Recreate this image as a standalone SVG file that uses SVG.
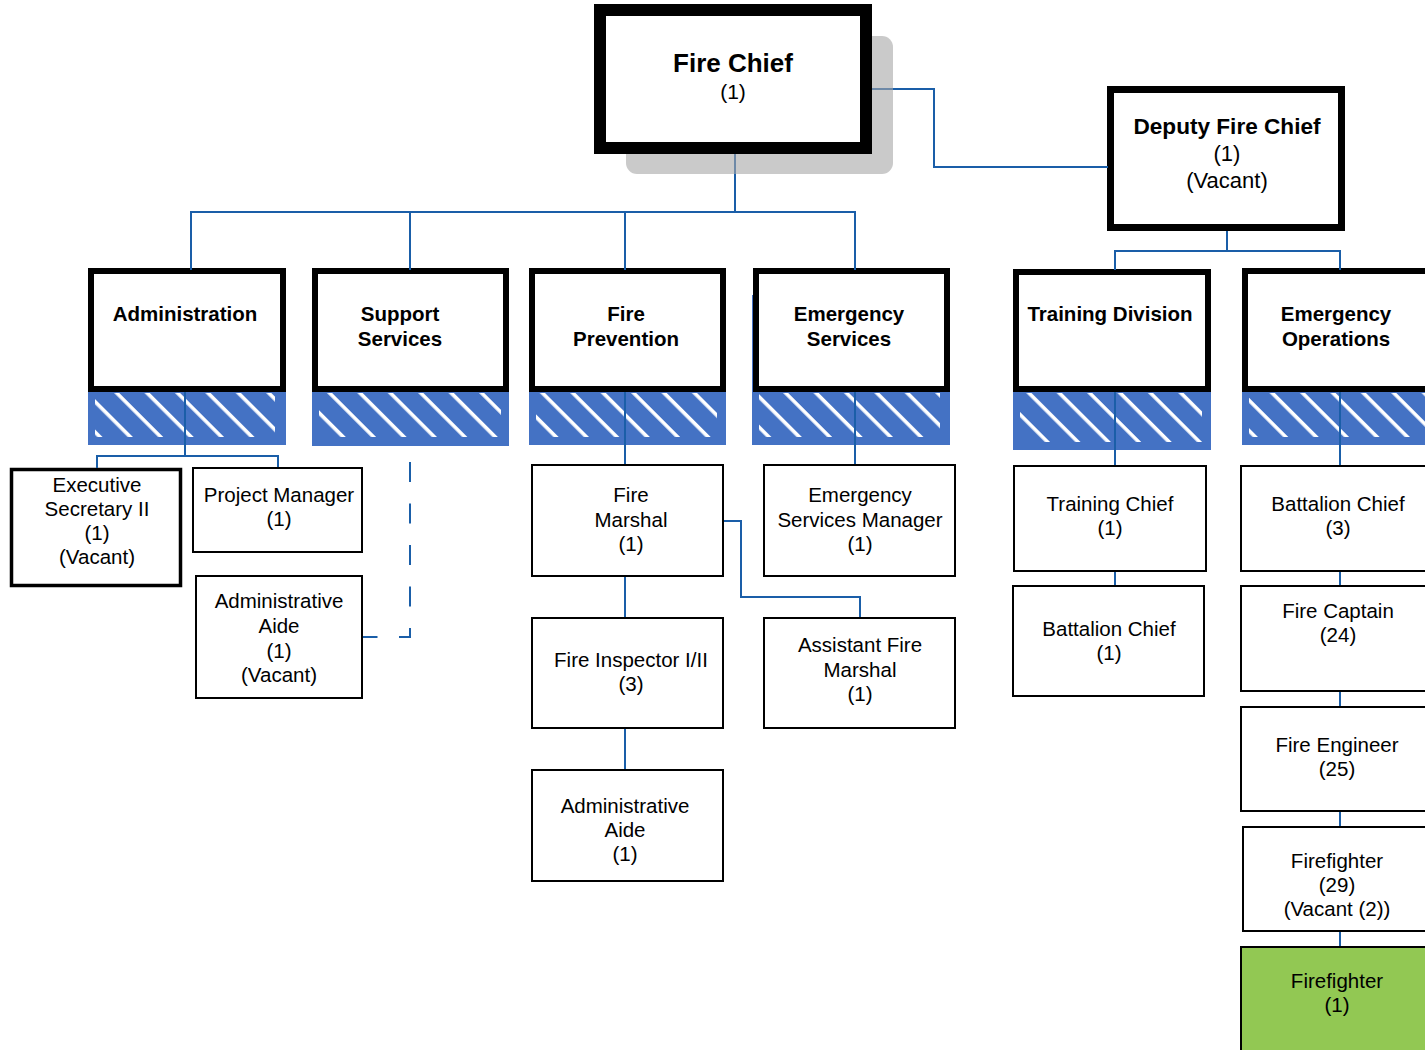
<svg xmlns="http://www.w3.org/2000/svg" width="1425" height="1050" viewBox="0 0 1425 1050">
<style>
text{font-family:"Liberation Sans",Arial,sans-serif;fill:#000;text-anchor:middle}
.b{font-weight:bold;font-size:20.5px}
.r{font-size:20.5px}
.dept{fill:#fff;stroke:#000;stroke-width:6}
.blue{fill:#4472C4}
.hatch{fill:url(#hatch)}
.box{fill:#fff;stroke:#000;stroke-width:2}
.conn{fill:none;stroke:#1a5ea8;stroke-width:2}
</style>
<defs>
<pattern id="hatch" patternUnits="userSpaceOnUse" width="21.5" height="21.5" patternTransform="rotate(45)">
<rect x="0" y="0" width="21.5" height="3.6" fill="#fff"/>
</pattern>
</defs>
<rect width="1425" height="1050" fill="#fff"/>

<g id="deputy">
<rect x="1110.5" y="89.5" width="231" height="138" fill="#fff" stroke="#000" stroke-width="7"/>
<text x="1227" y="134" style="font-weight:bold;font-size:22.6px">Deputy Fire Chief</text>
<text x="1227" y="161" style="font-size:22px">(1)</text>
<text x="1227" y="188" style="font-size:22px">(Vacant)</text>
</g>

<g id="administration">
<rect class="blue" x="88" y="295" width="198" height="150"/>
<rect class="hatch" x="95" y="393" width="180" height="44"/>
<rect class="dept" x="91" y="271" width="192" height="118"/>
<text class="b" x="185" y="321">Administration</text>
</g>
<g id="support">
<rect class="blue" x="312" y="295" width="197" height="151"/>
<rect class="hatch" x="319" y="393" width="182" height="44"/>
<rect class="dept" x="315" y="271" width="191" height="118"/>
<text class="b" x="400" y="321">Support</text>
<text class="b" x="400" y="346">Services</text>
</g>
<g id="prevention">
<rect class="blue" x="529" y="295" width="197" height="150"/>
<rect class="hatch" x="536" y="393" width="181" height="44"/>
<rect class="dept" x="532" y="271" width="191" height="118"/>
<text class="b" x="626" y="321">Fire</text>
<text class="b" x="626" y="346">Prevention</text>
</g>
<g id="emergency-services">
<rect class="blue" x="752" y="295" width="198" height="150"/>
<rect class="hatch" x="759" y="393" width="181" height="44"/>
<rect class="dept" x="756" y="271" width="191" height="118"/>
<text class="b" x="849" y="321">Emergency</text>
<text class="b" x="849" y="346">Services</text>
</g>
<g id="training">
<rect class="blue" x="1013" y="295" width="198" height="155"/>
<rect class="hatch" x="1020" y="393" width="182" height="49"/>
<rect class="dept" x="1016" y="272" width="192" height="117"/>
<text class="b" x="1110" y="321">Training Division</text>
</g>
<g id="emergency-operations">
<rect class="blue" x="1242" y="295" width="198" height="150"/>
<rect class="hatch" x="1249" y="393" width="191" height="44"/>
<rect class="dept" x="1245" y="271" width="192" height="118"/>
<text class="b" x="1336" y="321">Emergency</text>
<text class="b" x="1336" y="346">Operations</text>
</g>

<g id="exec-sec">
<rect x="11.5" y="469.5" width="169" height="116" fill="#fff" stroke="#000" stroke-width="3.5"/>
<text class="r" x="97" y="492">Executive</text>
<text class="r" x="97" y="516">Secretary II</text>
<text class="r" x="97" y="540">(1)</text>
<text class="r" x="97" y="564">(Vacant)</text>
</g>
<g id="project-manager">
<rect class="box" x="193" y="468" width="169" height="84"/>
<text class="r" x="279" y="502">Project Manager</text>
<text class="r" x="279" y="526">(1)</text>
</g>
<g id="admin-aide-1">
<rect class="box" x="196" y="576" width="166" height="122"/>
<text class="r" x="279" y="608">Administrative</text>
<text class="r" x="279" y="633">Aide</text>
<text class="r" x="279" y="658">(1)</text>
<text class="r" x="279" y="682">(Vacant)</text>
</g>
<g id="fire-marshal">
<rect class="box" x="532" y="465" width="191" height="111"/>
<text class="r" x="631" y="502">Fire</text>
<text class="r" x="631" y="527">Marshal</text>
<text class="r" x="631" y="551">(1)</text>
</g>
<g id="es-manager">
<rect class="box" x="764" y="465" width="191" height="111"/>
<text class="r" x="860" y="502">Emergency</text>
<text class="r" x="860" y="527">Services Manager</text>
<text class="r" x="860" y="551">(1)</text>
</g>
<g id="fire-inspector">
<rect class="box" x="532" y="618" width="191" height="110"/>
<text class="r" x="631" y="667">Fire Inspector I/II</text>
<text class="r" x="631" y="691">(3)</text>
</g>
<g id="asst-fire-marshal">
<rect class="box" x="764" y="618" width="191" height="110"/>
<text class="r" x="860" y="652">Assistant Fire</text>
<text class="r" x="860" y="677">Marshal</text>
<text class="r" x="860" y="701">(1)</text>
</g>
<g id="admin-aide-2">
<rect class="box" x="532" y="770" width="191" height="111"/>
<text class="r" x="625" y="813">Administrative</text>
<text class="r" x="625" y="837">Aide</text>
<text class="r" x="625" y="861">(1)</text>
</g>
<g id="training-chief">
<rect class="box" x="1014" y="466" width="192" height="105"/>
<text class="r" x="1110" y="511">Training Chief</text>
<text class="r" x="1110" y="535">(1)</text>
</g>
<g id="battalion-chief-1">
<rect class="box" x="1013" y="586" width="191" height="110"/>
<text class="r" x="1109" y="636">Battalion Chief</text>
<text class="r" x="1109" y="660">(1)</text>
</g>
<g id="battalion-chief-3">
<rect class="box" x="1241" y="466" width="200" height="105"/>
<text class="r" x="1338" y="511">Battalion Chief</text>
<text class="r" x="1338" y="535">(3)</text>
</g>
<g id="fire-captain">
<rect class="box" x="1241" y="586" width="200" height="105"/>
<text class="r" x="1338" y="618">Fire Captain</text>
<text class="r" x="1338" y="642">(24)</text>
</g>
<g id="fire-engineer">
<rect class="box" x="1241" y="707" width="200" height="104"/>
<text class="r" x="1337" y="752">Fire Engineer</text>
<text class="r" x="1337" y="776">(25)</text>
</g>
<g id="firefighter-29">
<rect class="box" x="1243" y="827" width="200" height="104"/>
<text class="r" x="1337" y="868">Firefighter</text>
<text class="r" x="1337" y="892">(29)</text>
<text class="r" x="1337" y="916">(Vacant (2))</text>
</g>
<g id="firefighter-1">
<rect x="1241" y="947" width="200" height="110" fill="#92c853" stroke="#000" stroke-width="2"/>
<text class="r" x="1337" y="988">Firefighter</text>
<text class="r" x="1337" y="1012">(1)</text>
</g>

<g id="connectors">
<path class="conn" d="M872,89 H934 V167 H1108"/>
<path class="conn" d="M735,154 V212 M191,270 V212 H855 V270 M410,212 V270 M625,212 V270"/>
<path class="conn" d="M1227,231 V251 M1115,270 V251 H1340 V270"/>
<path class="conn" d="M185,392 V456 M97,468 V456 H278 V467"/>
<path class="conn" d="M363,637 H410 V446" stroke-dasharray="20 21.5" stroke-dashoffset="5.5"/>
<path class="conn" d="M625,392 V464 M625,577 V617 M625,729 V769 M724,521 H741 V597 H860 V617"/>
<path class="conn" d="M855,392 V464"/>
<path class="conn" d="M1115,392 V465 M1115,572 V585"/>
<path class="conn" d="M1340,392 V465 M1340,572 V585 M1340,692 V706 M1340,812 V826 M1340,932 V946"/>
</g>

<g id="fire-chief">
<rect x="626" y="36" width="267" height="138" rx="11" fill="#a6a6a6" fill-opacity="0.6"/>
<rect x="600" y="10" width="266" height="138" fill="#fff" stroke="#000" stroke-width="12"/>
<text x="733" y="72" style="font-weight:bold;font-size:26px">Fire Chief</text>
<text x="733" y="99" style="font-size:21px">(1)</text>
</g>
</svg>
